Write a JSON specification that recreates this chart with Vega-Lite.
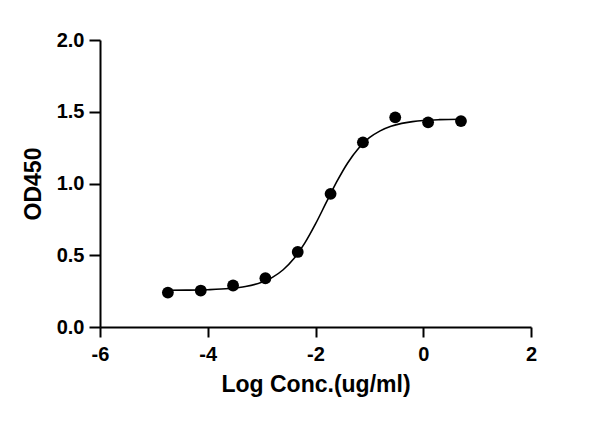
{
  "$schema": "https://vega.github.io/schema/vega-lite/v6.json",
  "width": 431,
  "height": 287,
  "autosize": "none",
  "padding": {"left": 100, "top": 40, "right": 69, "bottom": 96},
  "background": "white",
  "datasets": {
    "points": [
      {"logc": -4.74, "od": 0.24},
      {"logc": -4.13, "od": 0.254},
      {"logc": -3.53, "od": 0.289},
      {"logc": -2.93, "od": 0.34},
      {"logc": -2.33, "od": 0.523},
      {"logc": -1.72, "od": 0.928},
      {"logc": -1.12, "od": 1.287},
      {"logc": -0.52, "od": 1.461},
      {"logc": 0.09, "od": 1.426},
      {"logc": 0.7, "od": 1.435}
    ],
    "fit": [
      {"logc": -4.74, "od": 0.256},
      {"logc": -4.4, "od": 0.257},
      {"logc": -4.0, "od": 0.26},
      {"logc": -3.6, "od": 0.268},
      {"logc": -3.3, "od": 0.282},
      {"logc": -3.0, "od": 0.311},
      {"logc": -2.8, "od": 0.346},
      {"logc": -2.6, "od": 0.399},
      {"logc": -2.4, "od": 0.477},
      {"logc": -2.2, "od": 0.584},
      {"logc": -2.0, "od": 0.718},
      {"logc": -1.8, "od": 0.868},
      {"logc": -1.6, "od": 1.016},
      {"logc": -1.4, "od": 1.145},
      {"logc": -1.2, "od": 1.246},
      {"logc": -1.0, "od": 1.319},
      {"logc": -0.8, "od": 1.367},
      {"logc": -0.6, "od": 1.399},
      {"logc": -0.4, "od": 1.419},
      {"logc": -0.2, "od": 1.431},
      {"logc": 0.0, "od": 1.439},
      {"logc": 0.3, "od": 1.445},
      {"logc": 0.7, "od": 1.448}
    ]
  },
  "encoding": {
    "x": {
      "field": "logc",
      "type": "quantitative",
      "scale": {"domain": [-6, 2], "nice": false, "zero": false},
      "axis": {
        "title": "Log Conc.(ug/ml)",
        "values": [-6, -4, -2, 0, 2],
        "labelExpr": "toString(datum.value)",
        "labelFlush": false,
        "labelOverlap": false,
        "grid": false,
        "domainColor": "black",
        "domainWidth": 2,
        "tickColor": "black",
        "tickWidth": 2,
        "tickSize": 10,
        "labelFont": "Liberation Sans",
        "labelFontWeight": "bold",
        "labelFontSize": 20,
        "labelColor": "black",
        "labelPadding": 7,
        "titleFont": "Liberation Sans",
        "titleFontWeight": "bold",
        "titleFontSize": 23,
        "titleColor": "black",
        "titlePadding": 9
      }
    },
    "y": {
      "field": "od",
      "type": "quantitative",
      "scale": {"domain": [0, 2], "nice": false},
      "axis": {
        "title": "OD450",
        "values": [0, 0.5, 1, 1.5, 2],
        "format": ".1f",
        "labelFlush": false,
        "labelOverlap": false,
        "grid": false,
        "domainColor": "black",
        "domainWidth": 2,
        "tickColor": "black",
        "tickWidth": 2,
        "tickSize": 11,
        "labelFont": "Liberation Sans",
        "labelFontWeight": "bold",
        "labelFontSize": 20,
        "labelColor": "black",
        "labelPadding": 5,
        "titleFont": "Liberation Sans",
        "titleFontWeight": "bold",
        "titleFontSize": 23,
        "titleColor": "black",
        "titlePadding": 11
      }
    }
  },
  "layer": [
    {
      "data": {"name": "fit"},
      "mark": {"type": "line", "color": "black", "strokeWidth": 1.6, "interpolate": "monotone"}
    },
    {
      "data": {"name": "points"},
      "mark": {"type": "circle", "color": "black", "opacity": 1, "size": 140}
    }
  ],
  "config": {"view": {"stroke": null}}
}
